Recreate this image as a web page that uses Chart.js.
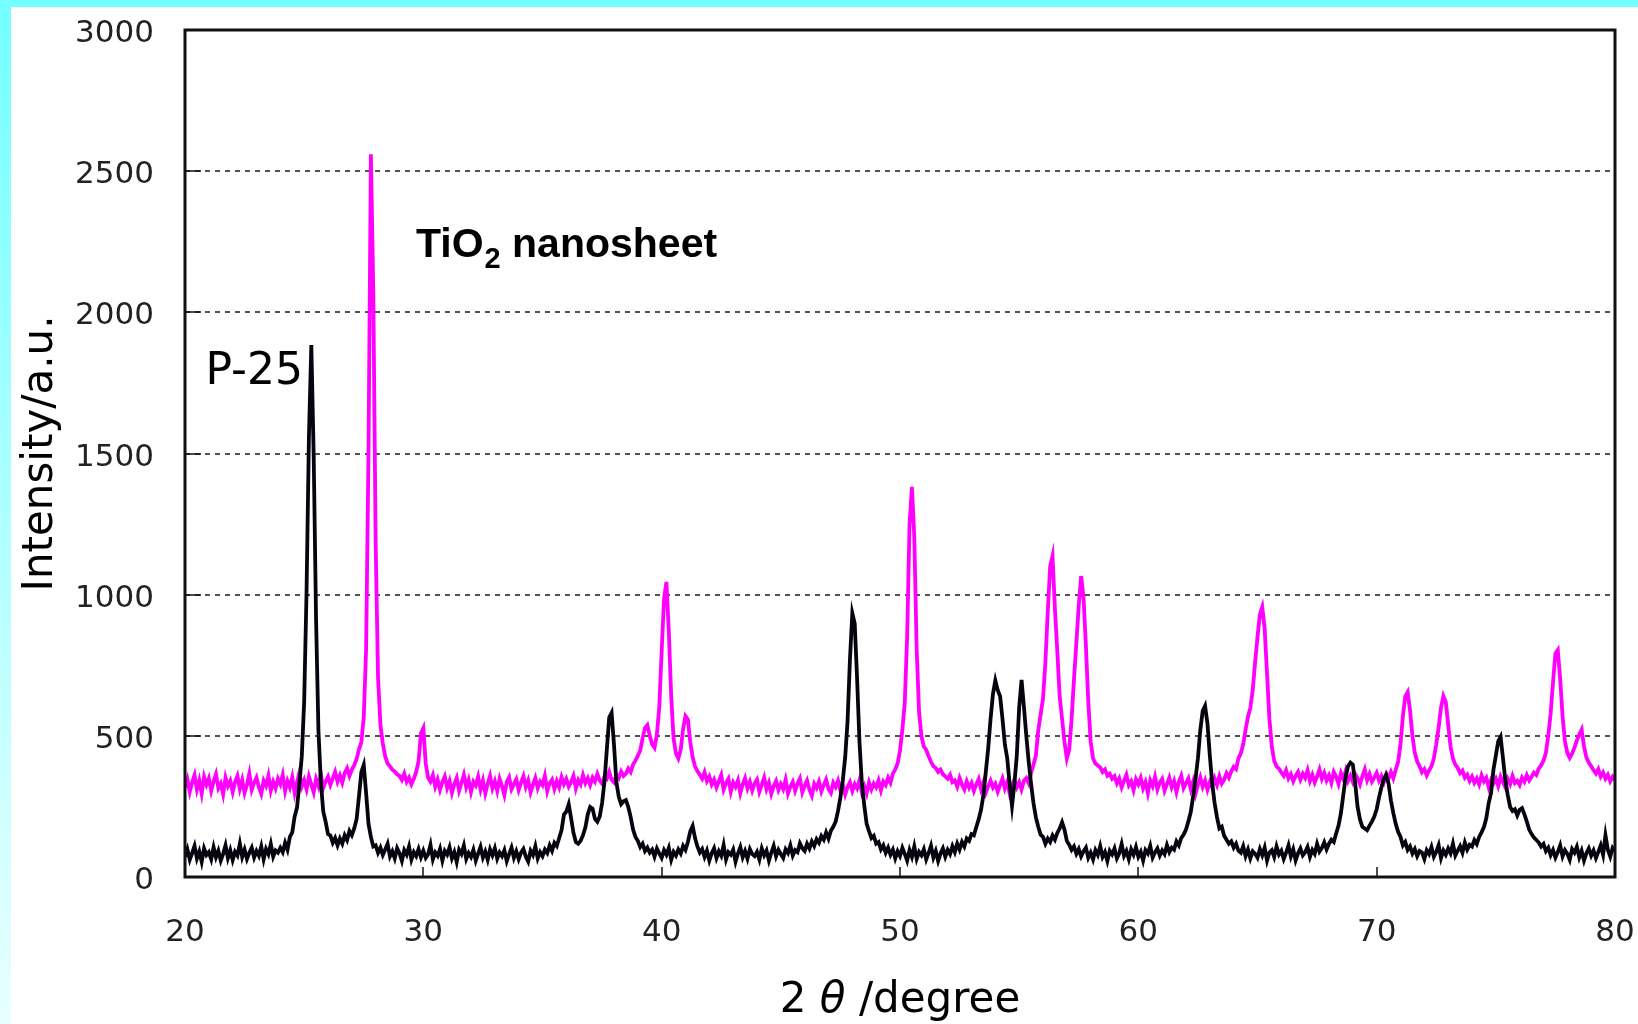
<!DOCTYPE html>
<html>
<head>
<meta charset="utf-8">
<title>XRD patterns: P-25 and TiO2 nanosheet</title>
<script src="https://cdn.jsdelivr.net/npm/chart.js@4.4.0/dist/chart.umd.min.js"></script>
<style>
  html, body { margin: 0; padding: 0; background: #fff; }
  #wrap { position: relative; width: 1638px; height: 1024px; overflow: hidden; background: #fff; }
  #chart { position: absolute; left: 0; top: 0; }
  .edge-top { position: absolute; left: 0; top: 0; width: 1638px; height: 7px; background: #73ffff; }
  .edge-left { position: absolute; left: 0; top: 0; width: 11px; height: 1024px; background: linear-gradient(#73ffff, #e8ffff); }
</style>
</head>
<body>
<div id="wrap">
  <canvas id="chart" width="1638" height="1024"></canvas>
  <div class="edge-left"></div>
  <div class="edge-top"></div>
</div>
<script>
// Scan grid: 2θ from 20° in 0.1° steps (601 steps to 80°)
const scanStart = 20;
const scanStep = 0.1;

const seriesNames = ['P-25', 'TiO2 nanosheet'];

// P-25 intensity, one row per degree (20.0 ... 79.9), then 80.0
const p25Counts = [
  72, 98, 61, 85, 110, 66, 90, 54, 101, 78,
  88, 63, 105, 70, 93, 58, 82, 112, 67, 95,
  60, 89, 76, 118, 71, 97, 64, 86, 104, 69,
  92, 75, 108, 63, 99, 81, 117, 72, 94, 86,
  103, 88, 121, 97, 142, 158, 214, 246, 330, 428,
  620, 1010, 1560, 1884, 1490, 910, 515, 338, 232, 196,
  152, 147, 121, 138, 112, 136, 118, 148, 131, 163,
  148, 172, 205, 286, 372, 397, 296, 188, 142, 108,
  112, 86, 104, 78, 97, 118, 73, 91, 66, 102,
  84, 57, 95, 79, 108, 62, 88, 74, 99, 70,
  93, 68, 81, 114, 62, 87, 75, 100, 58, 92,
  79, 105, 66, 88, 53, 97, 82, 111, 64, 85,
  71, 96, 58, 83, 107, 69, 90, 61, 98, 77,
  102, 65, 87, 74, 95, 56, 81, 104, 68, 91,
  63, 86, 99, 72, 55, 93, 78, 109, 66, 88,
  74, 97, 85, 112, 93, 121, 110, 138, 166, 221,
  232, 258, 208, 156, 124, 118, 128, 148, 176, 222,
  248, 242, 206, 196, 214, 262, 338, 452, 565, 582,
  468, 336, 284, 258, 268, 272, 248, 212, 168, 142,
  128, 106, 118, 92, 104, 86, 97, 72, 101, 84,
  68, 95, 79, 103, 61, 89, 76, 98, 83, 110,
  96, 124, 162, 181, 138, 108, 87, 99, 71, 93,
  58, 84, 102, 67, 91, 75, 113, 62, 88, 79,
  97, 54, 83, 106, 70, 92, 65, 99, 81, 74,
  89, 62, 101, 77, 94, 58, 86, 110, 73, 96,
  81, 67, 98, 85, 112, 76, 95, 88, 119, 102,
  92, 118, 101, 126, 110, 134, 121, 145, 132, 158,
  136, 164, 178, 196, 234, 282, 343, 424, 552, 771,
  934, 898, 702, 478, 332, 254, 188, 162, 138, 146,
  118, 124, 98, 112, 86, 104, 79, 97, 66, 91,
  74, 103, 82, 58, 95, 71, 108, 64, 89, 77,
  98, 62, 85, 111, 69, 92, 57, 83, 101, 72,
  96, 81, 109, 88, 118, 97, 124, 108, 136, 128,
  152, 148, 176, 204, 238, 290, 372, 455, 560, 648,
  696, 662, 640, 560, 470, 420, 330, 252, 330, 430,
  600, 698, 602, 500, 408, 330, 262, 212, 178, 150,
  142, 118, 136, 124, 147, 132, 156, 172, 194, 168,
  128, 114, 96, 108, 82, 99, 73, 91, 104, 68,
  86, 62, 95, 78, 109, 71, 88, 57, 93, 80,
  101, 66, 84, 117, 75, 92, 63, 98, 79, 106,
  72, 89, 58, 95, 83, 110, 69, 87, 101, 76,
  94, 81, 113, 88, 104, 97, 126, 112, 138, 150,
  168, 197, 230, 286, 348, 420, 520, 588, 606, 544,
  430, 330, 262, 212, 172, 178, 146, 132, 118, 126,
  104, 118, 93, 86, 109, 74, 97, 66, 91, 82,
  68, 99, 77, 104, 58, 87, 95, 71, 108, 80,
  93, 64, 86, 112, 73, 98, 59, 84, 101, 77,
  88, 106, 71, 96, 82, 117, 90, 103, 123, 98,
  118, 132, 124, 154, 182, 226, 290, 356, 392, 405,
  398, 330, 248, 204, 178, 172, 166, 182, 196, 214,
  240, 282, 318, 348, 362, 330, 270, 226, 188, 160,
  142, 112, 124, 96, 108, 83, 99, 74, 92, 87,
  64, 95, 81, 106, 72, 89, 113, 67, 94, 79,
  101, 84, 118, 76, 93, 109, 86, 122, 97, 114,
  108, 131, 117, 142, 158, 177, 208, 262, 298, 380,
  430, 480, 496, 420, 343, 290, 248, 234, 240, 218,
  238, 244, 222, 196, 168, 152, 140, 131, 122, 108,
  117, 92, 104, 78, 96, 69, 88, 112, 73, 95,
  82, 61, 99, 86, 107, 70, 93, 58, 84, 101,
  76, 94, 67, 89, 112, 79, 148, 96, 72, 103,
  92
];

// TiO2 nanosheet intensity, same grid
const nanosheetCounts = [
  318, 346, 302, 335, 361, 310, 342, 296, 355, 327,
  349, 305, 338, 364, 315, 331, 293, 352, 322, 340,
  301, 336, 358, 312, 344, 298, 327, 366, 309, 333,
  352, 318, 295, 341, 323, 359, 306, 337, 314, 348,
  329, 362, 304, 340, 317, 353, 298, 335, 370, 321,
  343, 311, 356, 328, 300, 347, 322, 365, 316, 338,
  355, 326, 349, 372, 338, 360, 334, 368, 385, 358,
  380, 396, 418, 452, 478, 566, 810, 1510, 2560, 2080,
  1180, 706, 538, 472, 428, 402, 392, 380, 374, 364,
  358, 344, 366, 337, 352, 329, 348, 372, 410, 508,
  527, 402, 352, 338, 361, 320, 345, 309, 337, 356,
  315, 340, 298, 329, 351, 306, 333, 362, 318, 344,
  301, 337, 324, 355, 310, 342, 296, 330, 358, 314,
  339, 305, 348, 322, 290, 336, 353, 311, 329, 346,
  308, 334, 357, 319, 342, 300, 327, 351, 315, 338,
  326, 359, 304, 332, 345, 312, 340, 318, 354, 329,
  347, 320, 336, 358, 314, 343, 328, 361, 333, 350,
  326, 352, 338, 365, 342, 330, 357, 348, 372, 344,
  335, 361, 350, 374, 358, 366, 384, 372, 398, 412,
  430, 448, 492, 528, 538, 500, 470, 458, 505, 602,
  800, 985, 1045, 870, 640, 490, 438, 420, 452, 525,
  570, 558, 478, 424, 392, 375, 362, 348, 371, 340,
  356, 328, 345, 317, 339, 361, 310, 333, 348, 302,
  335, 319, 342, 297, 328, 350, 314, 337, 306, 331,
  345, 302, 326, 352, 311, 334, 295, 322, 340, 308,
  329, 311, 344, 296, 320, 337, 305, 331, 349, 300,
  323, 342, 309, 288, 330, 315, 338, 303, 326, 345,
  312, 298, 334, 319, 341, 306, 327, 292, 318, 336,
  305, 329, 314, 343, 300, 322, 296, 335, 310, 331,
  318, 342, 307, 338, 326, 352, 334, 366, 381, 402,
  448, 522, 618, 852, 1248, 1382, 1205, 806, 584, 498,
  462, 450, 428, 408, 392, 386, 372, 380, 364, 356,
  348, 362, 336, 342, 320, 351, 328, 310, 339, 316,
  333, 305, 328, 347, 311, 336, 299, 322, 341, 317,
  330, 302, 326, 349, 314, 337, 296, 323, 345, 318,
  336, 310, 341, 350, 332, 368, 398, 430, 520, 575,
  632, 760, 940, 1100, 1137, 950, 800, 640, 560, 480,
  420, 450, 560, 700, 830, 960, 1066, 990, 820, 620,
  480, 420, 402, 395, 388, 372, 381, 359, 366, 348,
  357, 332, 349, 318, 341, 362, 325, 339, 308, 346,
  328, 351, 314, 336, 297, 342, 322, 355, 310, 334,
  347, 306, 329, 352, 318, 340, 301, 336, 358, 315,
  332, 349, 311, 338, 295, 327, 353, 320, 342, 309,
  336, 318, 349, 326, 357, 331, 345, 368, 352, 374,
  390, 382, 420, 438, 470, 522, 567, 600, 662, 760,
  850, 930, 956, 880, 720, 560, 462, 412, 392, 384,
  370, 358, 378, 349, 364, 339, 358, 372, 345, 366,
  351, 378, 340, 362, 335, 356, 381, 348, 369, 342,
  360, 334, 372, 355, 330, 368, 347, 376, 341, 359,
  337, 364, 350, 328, 357, 381, 343, 365, 338, 352,
  369, 341, 358, 336, 364, 348, 372, 350, 380, 408,
  470, 570, 640, 655, 590, 500, 440, 410, 392, 371,
  382, 360, 378, 392, 420, 470, 530, 600, 641, 620,
  540, 462, 420, 398, 386, 368, 377, 352, 362, 340,
  356, 334, 349, 328, 360, 339, 352, 318, 344, 331,
  348, 322, 355, 336, 318, 347, 329, 358, 333, 341,
  326, 352, 338, 361, 342, 355, 370, 362, 384, 396,
  412, 440, 500, 580, 690, 792, 804, 700, 570, 480,
  440, 422, 438, 458, 484, 505, 522, 462, 424, 405,
  392, 378, 366, 382, 356, 370, 348, 362, 339, 355,
  343
];

const xTickValues = [20, 30, 40, 50, 60, 70, 80];
const yTickValues = [0, 500, 1000, 1500, 2000, 2500, 3000];

const toPoints = counts => counts.map((c, i) => ({
  x: Math.round((scanStart + i * scanStep) * 10) / 10,
  y: c
}));

const FONT = '"DejaVu Sans", "Liberation Sans", sans-serif';
const BOLD_SANS = '"Liberation Sans", Arial, sans-serif';

// keep the plot box exactly where the layout padding puts it
const noLabelOverflow = s => {
  s.paddingLeft = 0; s.paddingRight = 0; s.paddingTop = 0; s.paddingBottom = 0;
};

// Frame, dashed grid, inward tick marks, axis titles and peak labels
const framePlugin = {
  id: 'frame',
  beforeDatasetsDraw(chart) {
    const { ctx, chartArea: a, scales: { y } } = chart;
    ctx.save();
    ctx.strokeStyle = '#1a1a1a';
    ctx.lineWidth = 1.5;
    ctx.setLineDash([5, 5]);
    yTickValues.forEach(v => {
      if (v <= y.min || v >= y.max) return;
      const py = Math.round(y.getPixelForValue(v));
      ctx.beginPath();
      ctx.moveTo(a.left, py);
      ctx.lineTo(a.right, py);
      ctx.stroke();
    });
    ctx.restore();
  },
  afterDatasetsDraw(chart) {
    const { ctx, chartArea: a, scales: { x, y } } = chart;
    ctx.save();
    ctx.setLineDash([]);
    ctx.strokeStyle = '#111';
    ctx.lineWidth = 1.5;
    // short solid ticks pointing into the plot
    yTickValues.forEach(v => {
      const py = Math.round(y.getPixelForValue(v));
      ctx.beginPath();
      ctx.moveTo(a.left, py);
      ctx.lineTo(a.left + 16, py);
      ctx.stroke();
    });
    xTickValues.forEach(v => {
      const px = Math.round(x.getPixelForValue(v));
      ctx.beginPath();
      ctx.moveTo(px, a.bottom);
      ctx.lineTo(px, a.bottom - 10);
      ctx.stroke();
    });
    // plot frame
    ctx.lineWidth = 3;
    ctx.strokeRect(a.left, a.top, a.right - a.left, a.bottom - a.top);

    ctx.fillStyle = '#000';
    // peak labels, anchored in data space
    ctx.font = '44px ' + FONT;
    ctx.textAlign = 'right';
    ctx.textBaseline = 'alphabetic';
    ctx.fillText(seriesNames[0], x.getPixelForValue(24.95), y.getPixelForValue(1745));

    const tx = x.getPixelForValue(29.69);
    const ty = y.getPixelForValue(2196);
    ctx.textAlign = 'left';
    ctx.font = 'bold 41px ' + BOLD_SANS;
    ctx.fillText('TiO', tx, ty);
    let cx = tx + ctx.measureText('TiO').width;
    ctx.font = 'bold 29px ' + BOLD_SANS;
    ctx.fillText('2', cx + 1, ty + 11);
    cx += ctx.measureText('2').width + 1;
    ctx.font = 'bold 41px ' + BOLD_SANS;
    ctx.fillText(' nanosheet', cx, ty);

    // y-axis title
    ctx.save();
    ctx.translate(52, (a.top + a.bottom) / 2);
    ctx.rotate(-Math.PI / 2);
    ctx.textAlign = 'center';
    ctx.font = '42px ' + FONT;
    ctx.fillText('Intensity/a.u.', 0, 0);
    ctx.restore();

    // x-axis title with italic theta
    const parts = [
      { t: '2 ', f: '42px ' + FONT },
      { t: 'θ', f: 'italic 42px ' + FONT },
      { t: ' /degree', f: '42px ' + FONT }
    ];
    let total = 0;
    parts.forEach(p => { ctx.font = p.f; p.w = ctx.measureText(p.t).width; total += p.w; });
    let px = (a.left + a.right) / 2 - total / 2;
    ctx.textAlign = 'left';
    parts.forEach(p => { ctx.font = p.f; ctx.fillText(p.t, px, 1012); px += p.w; });
    ctx.restore();
  }
};

new Chart(document.getElementById('chart'), {
  type: 'line',
  data: {
    datasets: [
      {
        label: seriesNames[0],
        data: toPoints(p25Counts),
        borderColor: '#05050f',
        borderWidth: 3.8,
        pointRadius: 0,
        tension: 0,
        order: 0
      },
      {
        label: seriesNames[1],
        data: toPoints(nanosheetCounts),
        borderColor: '#ff00ff',
        borderWidth: 3.8,
        pointRadius: 0,
        tension: 0,
        order: 1
      }
    ]
  },
  options: {
    responsive: false,
    animation: false,
    events: [],
    layout: { padding: { top: 30, right: 23, left: 0, bottom: 0 } },
    plugins: { legend: { display: false }, tooltip: { enabled: false } },
    scales: {
      x: {
        type: 'linear',
        min: 20,
        max: 80,
        grid: { display: false, drawTicks: false },
        border: { display: false },
        afterBuildTicks: s => { s.ticks = xTickValues.map(v => ({ value: v })); },
        afterFit: s => { s.height = 147; noLabelOverflow(s); },
        ticks: {
          font: { family: FONT, size: 31 }, color: '#222', padding: 37,
          maxRotation: 0, autoSkip: false, callback: v => String(v)
        }
      },
      y: {
        type: 'linear',
        min: 0,
        max: 3000,
        grid: { display: false, drawTicks: false },
        border: { display: false },
        afterBuildTicks: s => { s.ticks = yTickValues.map(v => ({ value: v })); },
        afterFit: s => { s.width = 185; noLabelOverflow(s); },
        ticks: {
          font: { family: FONT, size: 31 }, color: '#222', padding: 31, labelOffset: 4,
          callback: v => String(v)
        }
      }
    }
  },
  plugins: [framePlugin]
});
</script>
</body>
</html>
